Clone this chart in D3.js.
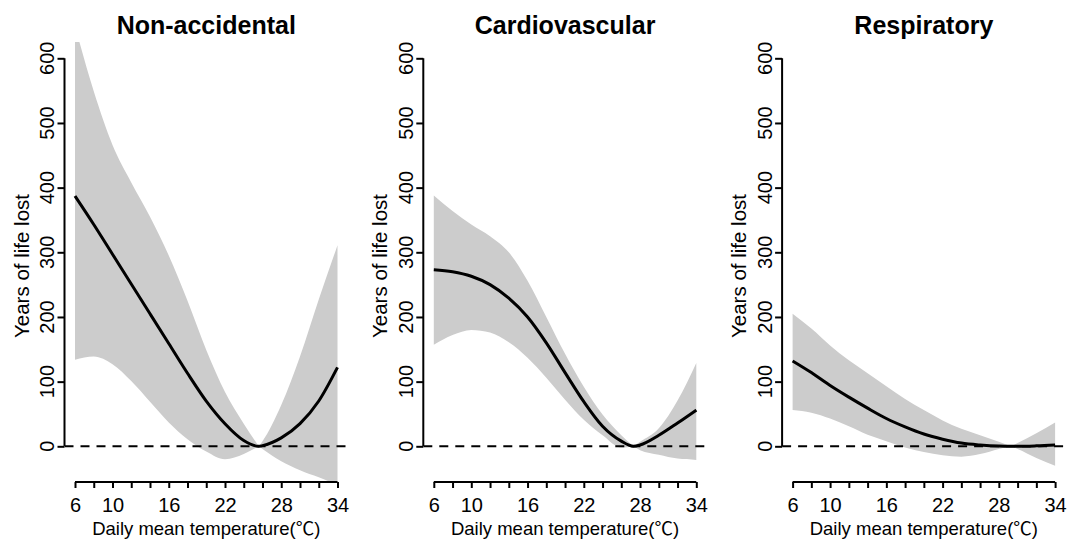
<!DOCTYPE html>
<html>
<head>
<meta charset="utf-8">
<script src="https://cdn.jsdelivr.net/npm/d3@7/dist/d3.min.js"></script>
<style>
body { margin: 0; background: #fff; }
text { font-family: "Liberation Sans", Arial, "Noto Sans CJK SC", sans-serif; fill: #000; }
</style>
</head>
<body>
<script>
// panel titles and the temperature of minimum risk (where the band pinches)
const titles = ["Non-accidental", "Cardiovascular", "Respiratory"];
const refTemp = [25.6, 27.3, 29.3];

// Non-accidental
const temp1 = [6, 8, 10, 12, 14, 16, 18, 20, 22, 24, 25.6, 26, 28, 30, 32, 34];
const est1  = [387, 343, 297, 251, 205, 159, 113, 70, 35, 9, 0, 1, 13, 35, 70, 122];
const low1  = [134, 139, 127, 101, 69, 37, 11, -8, -20, -12, 0, -4, -23, -37, -48, -60];
const high1 = [650, 549, 466, 408, 355, 295, 225, 149, 84, 35, 0, 8, 64, 139, 227, 311];

// Cardiovascular
const temp2 = [6, 8, 10, 12, 14, 16, 18, 20, 22, 24, 26, 27.3, 28, 30, 32, 34];
const est2  = [273, 270, 263, 250, 229, 200, 160, 114, 69, 31, 8, 0, 2, 17, 36, 56];
const low2  = [157, 172, 180, 176, 161, 137, 106, 72, 41, 17, -2, 0, -6, -13, -19, -21];
const high2 = [388, 364, 343, 325, 300, 256, 200, 143, 92, 49, 17, 0, 7, 28, 71, 129];

// Respiratory
const temp3 = [6, 8, 10, 12, 14, 16, 18, 20, 22, 24, 26, 28, 29.3, 30, 32, 34];
const est3  = [132, 114, 94, 76, 59, 43, 30, 19, 11, 5, 2, 0.3, 0, 0, 0.7, 2];
const low3  = [56, 52, 43, 31, 18, 8, -2, -9, -14, -16, -12, -4, 0, -4, -18, -30];
const high3 = [205, 182, 156, 133, 113, 93, 73, 56, 40, 27, 17, 7, 0, 5, 20, 37];

const xTicks = [6, 8, 10, 12, 14, 16, 18, 20, 22, 24, 26, 28, 30, 32, 34];
const xTickLabels = [6, 10, 16, 22, 28, 34];
const yTicks = [0, 100, 200, 300, 400, 500, 600];
const xTitle = "Daily mean temperature(\u2103)";
const yTitle = "Years of life lost";

const panels = [
  {temp: temp1, est: est1, low: low1, high: high1},
  {temp: temp2, est: est2, low: low2, high: high2},
  {temp: temp3, est: est3, low: low3, high: high3}
];

const w = 1085, h = 540;
const plotTop = 42, plotBottom = 482;
const pw = 283.5, step = 358.8, left0 = 64.5;

const svg = d3.select("body").append("svg")
    .attr("width", w)
    .attr("height", h);

panels.forEach((p, i) => {
    const left = left0 + i * step;
    const x = d3.scaleLinear().domain([4.88, 35.12]).range([left, left + pw]);
    const y = d3.scaleLinear().domain([-55.2, 625.2]).range([plotBottom, plotTop]);

    const rows = p.temp.map((t, j) => ({t: t, est: p.est[j], low: p.low[j], high: p.high[j]}));

    svg.append("clipPath").attr("id", "clip" + i)
      .append("rect")
        .attr("x", left).attr("y", plotTop)
        .attr("width", pw).attr("height", plotBottom - plotTop);

    const g = svg.append("g").attr("clip-path", "url(#clip" + i + ")");

    // confidence band, split at the reference temperature so it pinches to a point
    const band = d3.area()
        .curve(d3.curveMonotoneX)
        .x(d => x(d.t))
        .y0(d => y(d.low))
        .y1(d => y(d.high));
    const parts = [rows.filter(d => d.t <= refTemp[i]), rows.filter(d => d.t >= refTemp[i])];
    g.selectAll("path.band")
      .data(parts)
      .enter().append("path")
        .attr("class", "band")
        .attr("d", band)
        .attr("fill", "#cccccc");

    // dashed zero line
    g.append("line")
        .attr("x1", left).attr("x2", left + pw)
        .attr("y1", y(0)).attr("y2", y(0))
        .attr("stroke", "#000")
        .attr("stroke-width", 2)
        .attr("stroke-dasharray", "9,7");

    // estimate
    g.append("path")
        .datum(rows)
        .attr("d", d3.line().curve(d3.curveMonotoneX).x(d => x(d.t)).y(d => y(d.est)))
        .attr("fill", "none")
        .attr("stroke", "#000")
        .attr("stroke-width", 3);

    // y axis: ticks from d3, R-style line from 0 to 600 and rotated labels
    const yAxis = svg.append("g")
        .attr("transform", "translate(" + left + ",0)")
        .call(d3.axisLeft(y).tickValues(yTicks).tickSize(7).tickFormat(""));
    yAxis.select(".domain").remove();
    yAxis.selectAll(".tick line").attr("stroke-width", 2);
    yAxis.append("line")
        .attr("y1", y(yTicks[0])).attr("y2", y(yTicks[yTicks.length - 1]))
        .attr("stroke", "#000").attr("stroke-width", 2);
    svg.append("g").selectAll("text")
      .data(yTicks)
      .enter().append("text")
        .attr("transform", d => "translate(" + (left - 10.5) + "," + y(d) + ") rotate(-90)")
        .attr("text-anchor", "middle")
        .style("font-size", "20px")
        .text(d => d);

    // x axis
    const xAxis = svg.append("g")
        .attr("transform", "translate(0," + plotBottom + ")")
        .call(d3.axisBottom(x).tickValues(xTicks).tickSize(6).tickPadding(9.5)
            .tickFormat(d => xTickLabels.includes(d) ? d : ""));
    xAxis.select(".domain").remove();
    xAxis.selectAll(".tick line").attr("stroke-width", 2);
    xAxis.selectAll(".tick text").style("font-size", "20px").attr("font-family", null);
    xAxis.append("line")
        .attr("x1", x(xTicks[0])).attr("x2", x(xTicks[xTicks.length - 1]))
        .attr("stroke", "#000").attr("stroke-width", 2);

    // titles and labels
    svg.append("text")
        .attr("x", left + pw / 2).attr("y", 34)
        .attr("text-anchor", "middle")
        .style("font-size", "25px").style("font-weight", "bold")
        .text(titles[i]);

    svg.append("text")
        .attr("x", left + pw / 2).attr("y", 535)
        .attr("text-anchor", "middle")
        .style("font-size", "18.5px")
        .text(xTitle);

    svg.append("text")
        .attr("transform", "translate(" + (left - 36) + ",266) rotate(-90)")
        .attr("text-anchor", "middle")
        .style("font-size", "20.5px")
        .text(yTitle);
});
</script>
</body>
</html>
